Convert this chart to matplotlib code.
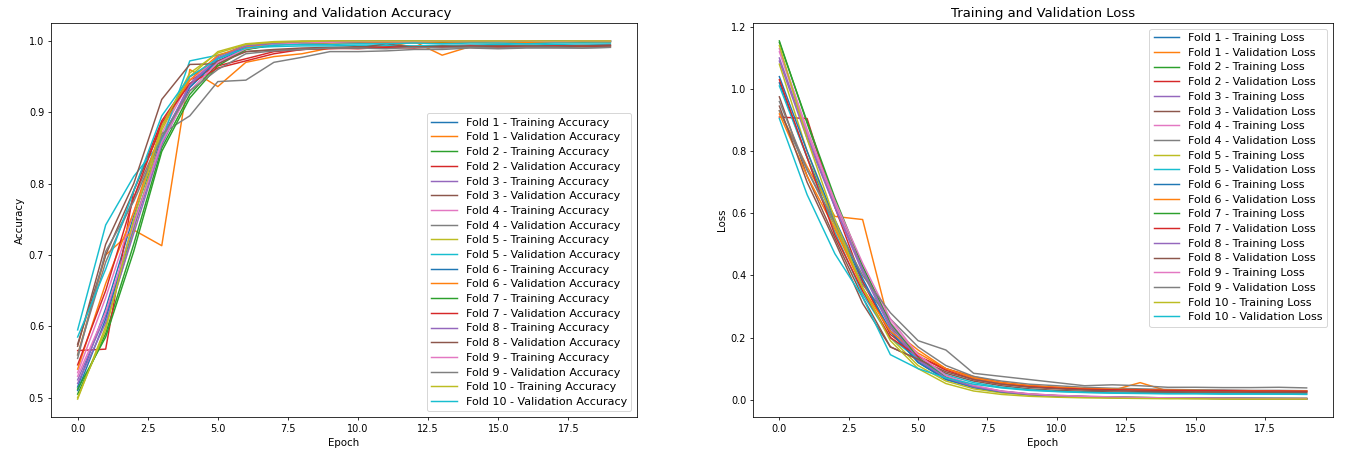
import matplotlib
matplotlib.use('Agg')
import matplotlib.pyplot as plt

epochs = list(range(20))

# training / validation accuracy per fold
acc_train = [
    [0.515, 0.625, 0.755, 0.865, 0.935, 0.972, 0.990, 0.995, 0.997, 0.998, 0.999, 0.999, 0.999, 0.999, 1.000, 0.999, 1.000, 1.000, 0.999, 0.999],
    [0.505, 0.590, 0.715, 0.850, 0.925, 0.968, 0.988, 0.994, 0.997, 0.998, 0.998, 0.999, 0.999, 1.000, 0.999, 1.000, 1.000, 0.999, 1.000, 0.999],
    [0.525, 0.615, 0.745, 0.860, 0.940, 0.978, 0.995, 0.998, 0.999, 0.999, 1.000, 1.000, 1.000, 1.000, 1.000, 1.000, 1.000, 1.000, 1.000, 1.000],
    [0.535, 0.640, 0.760, 0.870, 0.945, 0.975, 0.992, 0.996, 0.998, 0.999, 0.999, 0.999, 1.000, 1.000, 1.000, 0.999, 1.000, 1.000, 1.000, 0.999],
    [0.498, 0.600, 0.735, 0.875, 0.950, 0.985, 0.996, 0.999, 1.000, 1.000, 1.000, 1.000, 1.000, 1.000, 1.000, 1.000, 1.000, 1.000, 1.000, 1.000],
    [0.510, 0.610, 0.740, 0.855, 0.935, 0.975, 0.991, 0.996, 0.998, 0.999, 0.999, 1.000, 0.999, 1.000, 1.000, 1.000, 0.999, 1.000, 1.000, 1.000],
    [0.512, 0.585, 0.705, 0.845, 0.920, 0.965, 0.988, 0.995, 0.997, 0.998, 0.999, 0.999, 1.000, 0.999, 1.000, 1.000, 1.000, 1.000, 0.999, 1.000],
    [0.520, 0.605, 0.730, 0.855, 0.938, 0.976, 0.993, 0.997, 0.999, 0.999, 1.000, 1.000, 1.000, 1.000, 1.000, 1.000, 1.000, 1.000, 1.000, 1.000],
    [0.530, 0.620, 0.742, 0.858, 0.930, 0.970, 0.989, 0.995, 0.997, 0.998, 0.999, 0.999, 0.999, 1.000, 1.000, 1.000, 1.000, 0.999, 1.000, 1.000],
    [0.500, 0.595, 0.750, 0.880, 0.955, 0.983, 0.995, 0.998, 0.999, 1.000, 1.000, 1.000, 1.000, 1.000, 1.000, 1.000, 1.000, 1.000, 1.000, 1.000],
]
acc_val = [
    [0.560, 0.700, 0.735, 0.713, 0.960, 0.936, 0.970, 0.978, 0.982, 0.990, 0.990, 0.991, 0.999, 0.980, 0.992, 0.991, 0.992, 0.991, 0.992, 0.993],
    [0.566, 0.568, 0.790, 0.888, 0.945, 0.965, 0.975, 0.985, 0.988, 0.990, 0.989, 0.991, 0.990, 0.992, 0.991, 0.990, 0.992, 0.991, 0.993, 0.992],
    [0.575, 0.700, 0.790, 0.880, 0.950, 0.972, 0.985, 0.988, 0.990, 0.991, 0.992, 0.993, 0.992, 0.993, 0.994, 0.993, 0.994, 0.993, 0.994, 0.994],
    [0.560, 0.690, 0.780, 0.870, 0.895, 0.943, 0.945, 0.970, 0.977, 0.985, 0.985, 0.986, 0.988, 0.988, 0.990, 0.989, 0.990, 0.990, 0.990, 0.991],
    [0.595, 0.742, 0.810, 0.860, 0.972, 0.980, 0.990, 0.992, 0.993, 0.993, 0.994, 0.994, 0.993, 0.994, 0.994, 0.995, 0.994, 0.995, 0.994, 0.995],
    [0.540, 0.660, 0.760, 0.880, 0.945, 0.980, 0.992, 0.995, 0.996, 0.997, 0.997, 0.998, 0.997, 0.998, 0.998, 0.997, 0.998, 0.998, 0.998, 0.998],
    [0.546, 0.650, 0.780, 0.885, 0.940, 0.962, 0.972, 0.982, 0.988, 0.989, 0.990, 0.991, 0.992, 0.991, 0.993, 0.992, 0.992, 0.993, 0.993, 0.994],
    [0.572, 0.715, 0.800, 0.918, 0.967, 0.968, 0.985, 0.987, 0.988, 0.990, 0.990, 0.996, 0.991, 0.993, 0.992, 0.993, 0.993, 0.992, 0.993, 0.993],
    [0.555, 0.705, 0.775, 0.865, 0.930, 0.960, 0.982, 0.986, 0.988, 0.990, 0.990, 0.989, 0.991, 0.990, 0.991, 0.990, 0.991, 0.991, 0.990, 0.991],
    [0.585, 0.680, 0.790, 0.895, 0.950, 0.975, 0.990, 0.994, 0.995, 0.995, 0.996, 0.996, 0.997, 0.996, 0.997, 0.997, 0.996, 0.997, 0.997, 0.997],
]

# training / validation loss per fold
loss_train = [
    [1.020, 0.780, 0.570, 0.380, 0.220, 0.120, 0.065, 0.040, 0.025, 0.016, 0.012, 0.009, 0.007, 0.006, 0.005, 0.005, 0.004, 0.004, 0.003, 0.003],
    [1.155, 0.890, 0.640, 0.420, 0.240, 0.130, 0.070, 0.042, 0.026, 0.018, 0.013, 0.010, 0.008, 0.007, 0.006, 0.005, 0.005, 0.004, 0.004, 0.004],
    [1.090, 0.840, 0.620, 0.410, 0.230, 0.125, 0.068, 0.040, 0.024, 0.016, 0.012, 0.009, 0.007, 0.006, 0.005, 0.004, 0.004, 0.003, 0.003, 0.003],
    [1.120, 0.860, 0.630, 0.430, 0.250, 0.140, 0.075, 0.045, 0.028, 0.019, 0.014, 0.011, 0.009, 0.007, 0.006, 0.005, 0.005, 0.004, 0.004, 0.004],
    [1.080, 0.800, 0.560, 0.360, 0.200, 0.110, 0.060, 0.035, 0.022, 0.015, 0.011, 0.008, 0.007, 0.006, 0.005, 0.004, 0.004, 0.003, 0.003, 0.003],
    [1.040, 0.800, 0.580, 0.390, 0.220, 0.120, 0.066, 0.040, 0.025, 0.017, 0.012, 0.009, 0.008, 0.006, 0.005, 0.005, 0.004, 0.004, 0.004, 0.003],
    [1.150, 0.895, 0.650, 0.430, 0.245, 0.135, 0.072, 0.043, 0.027, 0.018, 0.013, 0.010, 0.008, 0.007, 0.006, 0.005, 0.005, 0.004, 0.004, 0.004],
    [1.100, 0.850, 0.620, 0.420, 0.240, 0.130, 0.070, 0.042, 0.026, 0.017, 0.012, 0.010, 0.008, 0.006, 0.005, 0.005, 0.004, 0.004, 0.003, 0.003],
    [1.130, 0.870, 0.640, 0.440, 0.260, 0.145, 0.078, 0.046, 0.028, 0.019, 0.014, 0.011, 0.009, 0.007, 0.006, 0.005, 0.005, 0.004, 0.004, 0.004],
    [1.140, 0.840, 0.580, 0.360, 0.190, 0.100, 0.052, 0.028, 0.017, 0.011, 0.008, 0.006, 0.005, 0.004, 0.003, 0.003, 0.002, 0.002, 0.002, 0.002],
]
loss_val = [
    [0.930, 0.750, 0.590, 0.580, 0.230, 0.160, 0.100, 0.075, 0.055, 0.045, 0.038, 0.033, 0.030, 0.055, 0.028, 0.027, 0.026, 0.026, 0.025, 0.025],
    [0.910, 0.905, 0.620, 0.380, 0.210, 0.140, 0.100, 0.070, 0.055, 0.045, 0.040, 0.035, 0.033, 0.032, 0.031, 0.030, 0.030, 0.029, 0.029, 0.028],
    [0.975, 0.720, 0.520, 0.330, 0.170, 0.130, 0.085, 0.060, 0.045, 0.035, 0.030, 0.027, 0.025, 0.024, 0.023, 0.022, 0.022, 0.021, 0.021, 0.021],
    [0.930, 0.740, 0.560, 0.370, 0.260, 0.170, 0.110, 0.075, 0.060, 0.050, 0.045, 0.040, 0.037, 0.035, 0.033, 0.032, 0.031, 0.030, 0.030, 0.029],
    [1.010, 0.780, 0.540, 0.340, 0.200, 0.130, 0.080, 0.055, 0.040, 0.032, 0.027, 0.024, 0.022, 0.021, 0.020, 0.020, 0.019, 0.019, 0.018, 0.018],
    [0.920, 0.720, 0.550, 0.360, 0.220, 0.150, 0.100, 0.070, 0.055, 0.045, 0.040, 0.036, 0.034, 0.032, 0.031, 0.030, 0.029, 0.029, 0.028, 0.028],
    [1.030, 0.780, 0.530, 0.350, 0.200, 0.140, 0.095, 0.065, 0.050, 0.042, 0.037, 0.034, 0.032, 0.031, 0.030, 0.029, 0.029, 0.028, 0.028, 0.027],
    [0.945, 0.700, 0.510, 0.310, 0.170, 0.130, 0.090, 0.065, 0.050, 0.040, 0.035, 0.031, 0.029, 0.027, 0.026, 0.025, 0.025, 0.024, 0.024, 0.024],
    [0.960, 0.740, 0.570, 0.400, 0.280, 0.190, 0.160, 0.085, 0.075, 0.065, 0.055, 0.045, 0.048, 0.045, 0.040, 0.040, 0.039, 0.039, 0.040, 0.038],
    [0.905, 0.660, 0.470, 0.330, 0.145, 0.100, 0.070, 0.050, 0.038, 0.030, 0.026, 0.023, 0.021, 0.020, 0.019, 0.019, 0.018, 0.018, 0.018, 0.017],
]

W, H, DPI = 1348, 453, 70
fig = plt.figure(figsize=(W / DPI, H / DPI), dpi=DPI)

# axes boxes in pixels: left, bottom, right, top
ax1 = fig.add_axes([51 / W, 1 - 417 / H, (637 - 51) / W, (417 - 23) / H])
ax2 = fig.add_axes([753 / W, 1 - 417 / H, (1333 - 753) / W, (417 - 23) / H])

for i in range(10):
    ax1.plot(epochs, acc_train[i], label='Fold {0} - Training Accuracy'.format(i + 1))
    ax1.plot(epochs, acc_val[i], label='Fold {0} - Validation Accuracy'.format(i + 1))
    ax2.plot(epochs, loss_train[i], label='Fold {0} - Training Loss'.format(i + 1))
    ax2.plot(epochs, loss_val[i], label='Fold {0} - Validation Loss'.format(i + 1))

leg_kw = dict(fontsize=11.5, labelspacing=0.42, handlelength=2.3)

ax1.set_title('Training and Validation Accuracy', fontsize=13.5)
ax1.set_xlabel('Epoch', fontsize=10.5)
ax1.set_ylabel('Accuracy', fontsize=10.5)
ax1.legend(loc='lower right', **leg_kw)

ax2.set_title('Training and Validation Loss', fontsize=13.5)
ax2.set_xlabel('Epoch', fontsize=10.5)
ax2.set_ylabel('Loss', fontsize=10.5)
ax2.legend(loc='upper right', **leg_kw)

fig.savefig('out.png', dpi=DPI)
